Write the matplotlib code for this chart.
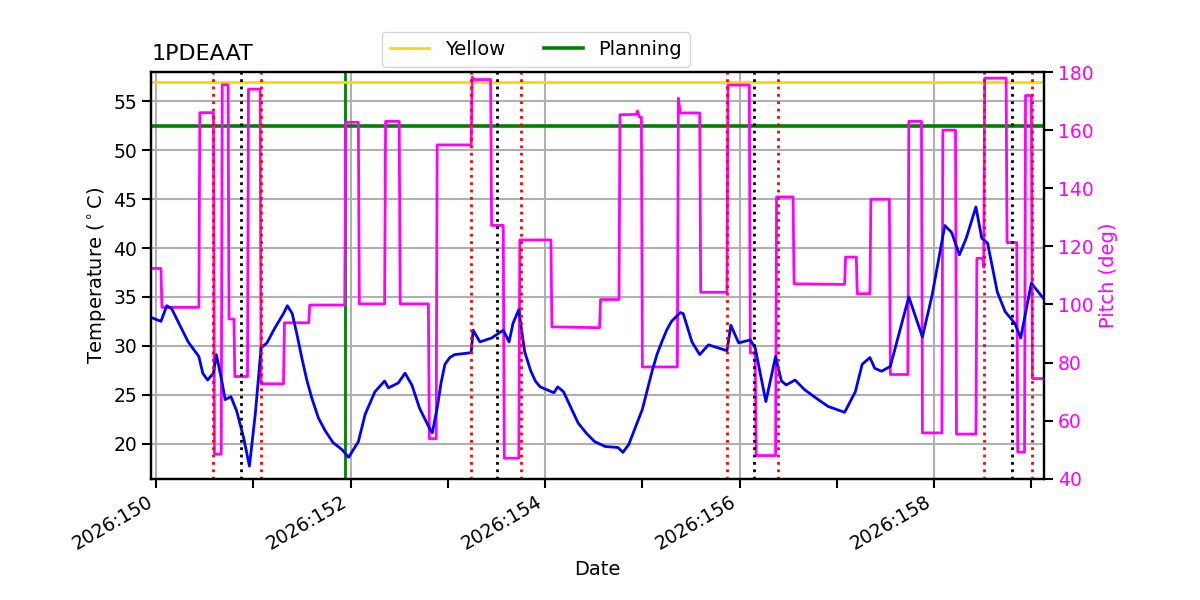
import matplotlib
matplotlib.use("Agg")
import matplotlib.pyplot as plt
from matplotlib.ticker import MultipleLocator, FuncFormatter
from matplotlib.transforms import blended_transform_factory

# ---------------- data (day of year 2026) ----------------
temp_days = [149.95, 150.05, 150.11, 150.16, 150.25, 150.33, 150.44, 150.48, 150.53, 150.59,
             150.62, 150.68, 150.71, 150.77, 150.83, 150.90, 150.96, 151.02, 151.08, 151.14,
             151.22, 151.31, 151.35, 151.40, 151.45, 151.50, 151.55, 151.60, 151.67, 151.74,
             151.82, 151.91, 151.98, 152.08, 152.15, 152.25, 152.35, 152.39, 152.49, 152.56,
             152.63, 152.71, 152.80, 152.84, 152.89, 152.93, 152.97, 153.02, 153.07, 153.16,
             153.24, 153.26, 153.33, 153.45, 153.57, 153.63, 153.67, 153.73, 153.76, 153.79,
             153.85, 153.90, 153.95, 154.02, 154.09, 154.13, 154.19, 154.26, 154.34, 154.43,
             154.51, 154.62, 154.75, 154.80, 154.86, 155.00, 155.10, 155.15, 155.20, 155.25,
             155.30, 155.39, 155.42, 155.51, 155.59, 155.68, 155.87, 155.91, 155.99, 156.11,
             156.16, 156.27, 156.37, 156.43, 156.48, 156.57, 156.67, 156.78, 156.91, 157.08,
             157.19, 157.26, 157.34, 157.39, 157.46, 157.55, 157.74, 157.88, 157.98, 158.11,
             158.18, 158.26, 158.33, 158.43, 158.49, 158.55, 158.65, 158.73, 158.83, 158.89,
             159.00, 159.12]
temp_vals = [32.9, 32.5, 34.1, 33.8, 32.0, 30.4, 28.9, 27.2, 26.5, 27.2,
             29.1, 26.2, 24.5, 24.8, 23.3, 20.6, 17.7, 23.0, 29.8, 30.3,
             31.8, 33.3, 34.1, 33.3, 31.1, 28.7, 26.5, 24.7, 22.6, 21.3,
             20.1, 19.4, 18.6, 20.2, 23.0, 25.3, 26.4, 25.7, 26.2, 27.2,
             26.0, 23.6, 21.8, 21.1, 23.6, 26.2, 28.1, 28.8, 29.1, 29.2,
             29.3, 31.6, 30.4, 30.8, 31.6, 30.4, 32.3, 33.7, 31.5, 29.4,
             27.5, 26.4, 25.8, 25.5, 25.2, 25.8, 25.3, 23.8, 22.1, 21.0,
             20.2, 19.7, 19.6, 19.1, 19.9, 23.5, 27.4, 29.1, 30.4, 31.6,
             32.5, 33.4, 33.3, 30.4, 29.1, 30.1, 29.5, 32.1, 30.3, 30.6,
             29.8, 24.3, 28.9, 26.4, 26.0, 26.5, 25.5, 24.7, 23.8, 23.2,
             25.3, 28.1, 28.8, 27.7, 27.4, 27.9, 35.0, 30.9, 35.2, 42.3,
             41.6, 39.3, 41.0, 44.2, 41.0, 40.5, 35.5, 33.5, 32.3, 30.8,
             36.4, 34.9]

pitch_days = [149.95, 150.05, 150.06, 150.44, 150.45, 150.59, 150.60, 150.67, 150.68, 150.74,
              150.75, 150.80, 150.81, 150.94, 150.95, 151.07, 151.08, 151.31, 151.32, 151.57,
              151.58, 151.94, 151.95, 152.08, 152.09, 152.35, 152.36, 152.50, 152.51, 152.80,
              152.81, 152.88, 152.89, 153.24, 153.25, 153.26, 153.27, 153.44, 153.45, 153.57,
              153.58, 153.73, 153.74, 154.06, 154.07, 154.56, 154.57, 154.76, 154.77, 154.94,
              154.95, 154.97, 154.99, 155.00, 155.36, 155.37, 155.39, 155.59, 155.60, 155.87,
              155.88, 156.10, 156.11, 156.16, 156.17, 156.37, 156.38, 156.55, 156.56, 157.08,
              157.09, 157.20, 157.21, 157.34, 157.35, 157.54, 157.55, 157.73, 157.74, 157.87,
              157.88, 158.08, 158.09, 158.22, 158.23, 158.43, 158.44, 158.50, 158.51, 158.52,
              158.74, 158.75, 158.85, 158.86, 158.93, 158.94, 159.00, 159.01, 159.13]
pitch_vals = [112.4, 112.4, 99.0, 99.0, 166.0, 166.0, 48.5, 48.5, 175.6, 175.6,
              95.0, 95.0, 75.2, 75.2, 174.1, 174.1, 72.7, 72.7, 93.7, 93.7,
              99.8, 99.8, 162.7, 162.7, 100.2, 100.2, 163.0, 163.0, 100.2, 100.2,
              53.8, 53.8, 154.9, 154.9, 178.2, 177.6, 177.4, 177.4, 127.2, 127.2,
              47.1, 47.1, 122.2, 122.2, 92.3, 92.0, 101.7, 101.7, 165.3, 165.4,
              166.6, 164.5, 164.5, 78.5, 78.5, 171.0, 165.9, 165.9, 104.2, 104.2,
              175.5, 175.5, 83.3, 83.3, 48.0, 48.0, 137.0, 137.0, 107.1, 106.9,
              116.3, 116.3, 103.7, 103.7, 136.2, 136.2, 75.9, 75.9, 163.0, 163.0,
              55.8, 55.8, 160.0, 160.0, 55.4, 55.4, 115.9, 115.9, 112.8, 177.9,
              177.9, 121.3, 121.3, 49.2, 49.2, 171.9, 171.9, 74.5, 74.5]

yellow_limit = 57.0
planning_limit = 52.5
planning_start = 151.94
red_events = [150.59, 151.08, 153.24, 153.75, 155.87, 156.39, 158.51, 159.01]
black_events = [150.87, 153.51, 156.15, 158.80]

title = "1PDEAAT"
year = 2026

# ---------------- style ----------------
plt.rcParams.update({
    "font.family": "DejaVu Sans",
    "font.size": 14,
    "xtick.labelsize": 13.5,
    "ytick.labelsize": 13.5,
    "axes.linewidth": 1.6,
    "xtick.major.size": 6.5, "ytick.major.size": 6.5,
    "xtick.minor.size": 6.5,
    "xtick.major.width": 1.5, "ytick.major.width": 1.5,
    "xtick.minor.width": 1.5,
    "grid.linewidth": 1.5,
    "grid.color": "#b0b0b0",
})

fig = plt.figure(figsize=(12, 6), dpi=100)
fig.subplots_adjust(left=0.126, right=0.87, bottom=0.202, top=0.88)
ax = fig.add_subplot(111)
ax2 = ax.twinx()

ax.set_xlim(149.95, 159.13)
ax.set_ylim(16.4, 58.0)
ax2.set_ylim(40, 180)

ax.grid(True, which="major")
ax.xaxis.set_major_locator(MultipleLocator(2))
ax.xaxis.set_minor_locator(MultipleLocator(1))
ax.xaxis.set_major_formatter(FuncFormatter(lambda v, p: f"{year}:{int(round(v))}"))
ax.yaxis.set_major_locator(MultipleLocator(5))
ax2.yaxis.set_major_locator(MultipleLocator(20))
ax.tick_params(axis="x", which="major", labelrotation=30)
plt.setp(ax.get_xticklabels(), ha="right")

# Limit lines (drawn beneath pitch)
ax.axvline(planning_start, color="green", lw=2.0)
htr = blended_transform_factory(ax.transAxes, ax.transData)
h_yellow, = ax.plot([0, 1], [yellow_limit, yellow_limit], transform=htr,
                    color="#FFD700", lw=2.0, label="Yellow")
h_plan, = ax.plot([0, 1], [planning_limit, planning_limit], transform=htr,
                  color="green", lw=2.6, label="Planning")

# Pitch
ax2.plot(pitch_days, pitch_vals, color="magenta", lw=2.0)
# Temperature (over pitch)
ax2.plot(temp_days, temp_vals, color="blue", lw=2.0, transform=ax.transData)
# Event lines
for d in red_events:
    ax2.axvline(d, color="red", ls=":", lw=2.0)
for d in black_events:
    ax2.axvline(d, color="black", ls=":", lw=2.0)

ax.set_xlabel("Date")
ax.set_ylabel(r"Temperature ($^\circ$C)")
ax2.set_ylabel("Pitch (deg)", color="magenta")
ax2.tick_params(axis="y", labelcolor="magenta")
ax.set_title(title, loc="left", fontsize=16, pad=9)

ax2.legend(handles=[h_yellow, h_plan], loc="upper center", bbox_to_anchor=(0.431, 1.098),
           borderaxespad=0, ncol=2, fontsize=14)

fig.savefig("out.png", dpi=100)
